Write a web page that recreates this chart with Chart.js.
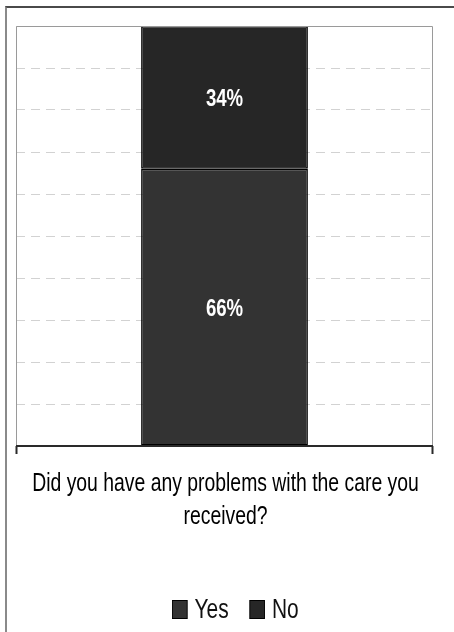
<!DOCTYPE html>
<html>
<head>
<meta charset="utf-8">
<script src="https://cdn.jsdelivr.net/npm/chart.js@4.4.1/dist/chart.umd.min.js"></script>
<style>
  html, body { margin: 0; padding: 0; background: #fff; overflow: hidden; }
  #wrap { position: relative; width: 454px; height: 632px; overflow: hidden; }
  #frame { position: absolute; left: 5px; top: 6px; width: 460px; height: 640px;
           border-left: 2px solid #8a8a8a; border-top: 2px solid #4a4a4a; pointer-events: none; }
  canvas { position: absolute; left: 0; top: 0; }
  #legend { position: absolute; left: 172px; top: 595px; display: flex; align-items: center;
            font-family: 'Liberation Sans', Arial, sans-serif; font-size: 27px; line-height: 28px;
            color: #111; transform: scaleX(0.775); transform-origin: 0 0; white-space: nowrap; }
  #legend .item { display: flex; align-items: center; margin-right: 27px; }
  #legend .swatch { width: 18px; height: 17px; border: 1px solid #000; margin-right: 9px; }
</style>
</head>
<body>
<div id="wrap">
  <canvas id="chartCanvas" width="454" height="632"></canvas>
  <div id="frame"></div>
  <div id="legend"></div>
</div>
<script>
// --- data ---
const categories = ["Did you have any problems with the care you received?"];
const seriesNames = ["Yes", "No"];
const yesValues = [66];
const noValues = [34];
const seriesColors = ["#333333", "#262626"];
const titleLines = ["Did you have any problems with the care you", "received?"];

const FONT = "'Liberation Sans', Arial, sans-serif";
const SQUEEZE = 0.775; // all text is drawn condensed

function squeezedText(ctx, text, x, y) {
  ctx.save();
  ctx.translate(x, y);
  ctx.scale(SQUEEZE, 1);
  ctx.fillText(text, 0, 0);
  ctx.restore();
}

// white percentage labels in the middle of each segment
const segmentLabels = {
  id: "segmentLabels",
  afterDatasetsDraw(chart) {
    const ctx = chart.ctx;
    ctx.save();
    ctx.fillStyle = "#ffffff";
    ctx.font = "bold 24px " + FONT;
    ctx.textAlign = "center";
    ctx.textBaseline = "alphabetic";
    chart.data.datasets.forEach((ds, i) => {
      const meta = chart.getDatasetMeta(i);
      meta.data.forEach((bar, j) => {
        const yMid = (bar.y + bar.base) / 2;
        squeezedText(ctx, ds.data[j] + "%", bar.x, yMid + 8.5);
      });
    });
    ctx.restore();
  }
};

// question text under the plot
const bottomTitle = {
  id: "bottomTitle",
  afterDraw(chart) {
    const { left, right, bottom } = chart.chartArea;
    const ctx = chart.ctx;
    ctx.save();
    ctx.fillStyle = "#000000";
    ctx.font = "25px " + FONT;
    ctx.textAlign = "center";
    ctx.textBaseline = "alphabetic";
    const cx = (left + right) / 2 + 1;
    titleLines.forEach((line, i) => {
      squeezedText(ctx, line, cx, bottom + 45 + i * 33);
    });
    ctx.restore();
  }
};

// plot box: grey sides, dark baseline with small end ticks
const plotFrame = {
  id: "plotFrame",
  afterDatasetsDraw(chart) {
    const { left, right, top, bottom } = chart.chartArea;
    const ctx = chart.ctx;
    ctx.save();
    ctx.strokeStyle = "#9a9a9a";
    ctx.lineWidth = 1;
    ctx.beginPath();
    ctx.moveTo(left + 0.5, bottom);
    ctx.lineTo(left + 0.5, top + 0.5);
    ctx.lineTo(right - 0.5, top + 0.5);
    ctx.lineTo(right - 0.5, bottom);
    ctx.stroke();
    ctx.strokeStyle = "#2a2a2a";
    ctx.lineWidth = 2;
    ctx.beginPath();
    ctx.moveTo(left, bottom);
    ctx.lineTo(right, bottom);
    ctx.moveTo(left + 0.5, bottom);
    ctx.lineTo(left + 0.5, bottom + 8);
    ctx.moveTo(right - 0.5, bottom);
    ctx.lineTo(right - 0.5, bottom + 8);
    ctx.stroke();
    ctx.restore();
  }
};

const datasets = [yesValues, noValues].map((vals, i) => ({
  label: seriesNames[i],
  data: vals,
  backgroundColor: seriesColors[i],
  borderColor: "#000000",
  borderWidth: 1.5,
  borderSkipped: false,
  barPercentage: 0.4,
  categoryPercentage: 1.0
}));

const chart = new Chart(document.getElementById("chartCanvas"), {
  type: "bar",
  data: { labels: categories, datasets },
  plugins: [segmentLabels, plotFrame, bottomTitle],
  options: {
    responsive: false,
    animation: false,
    layout: { padding: { left: 16, right: 21, top: 26, bottom: 186 } },
    scales: {
      x: { stacked: true, display: false },
      y: {
        stacked: true,
        min: 0,
        max: 100,
        ticks: { display: false, stepSize: 10 },
        grid: { color: "#d2d2d2", lineWidth: 1, drawTicks: false },
        border: { display: false, dash: [9, 6] }
      }
    },
    plugins: {
      tooltip: { enabled: false },
      legend: { display: false },
      title: { display: false }
    }
  }
});

// legend built from the datasets
const legendEl = document.getElementById("legend");
chart.data.datasets.forEach(ds => {
  const item = document.createElement("div");
  item.className = "item";
  const sw = document.createElement("span");
  sw.className = "swatch";
  sw.style.background = ds.backgroundColor;
  const txt = document.createElement("span");
  txt.textContent = ds.label;
  item.append(sw, txt);
  legendEl.append(item);
});
</script>
</body>
</html>
